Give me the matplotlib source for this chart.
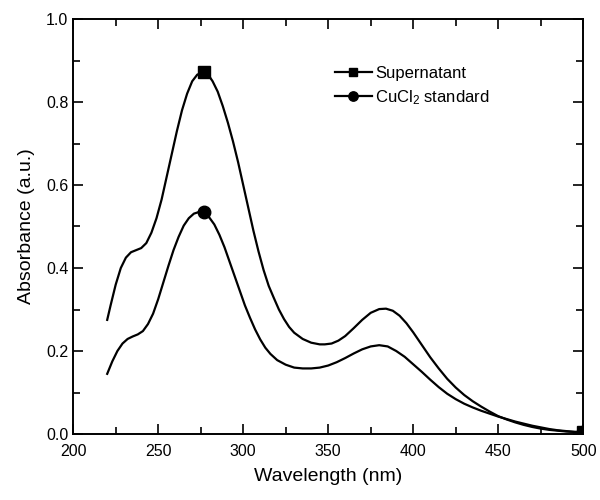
import matplotlib.pyplot as plt
from matplotlib.ticker import MultipleLocator

plt.rcParams['font.family'] = ['Liberation Sans', 'DejaVu Sans']
plt.rcParams['mathtext.fontset'] = 'custom'
plt.rcParams['mathtext.rm'] = 'Liberation Sans'
plt.rcParams['mathtext.it'] = 'Liberation Sans:italic'

# Supernatant spectrum
wl_sup = [220, 222, 225, 228, 231, 234, 237, 240, 243, 246, 249, 252, 255, 258,
          261, 264, 267, 270, 273, 277, 279, 282, 285, 288, 291, 294, 297, 300,
          303, 306, 309, 312, 315, 318, 321, 324, 327, 330, 335, 340, 345, 348,
          352, 356, 360, 365, 370, 375, 380, 384, 388, 392, 396, 400, 405, 410,
          415, 420, 425, 430, 435, 440, 445, 450, 455, 460, 465, 470, 475, 480,
          485, 490, 495, 500]
abs_sup = [0.275, 0.31, 0.36, 0.40, 0.425, 0.438, 0.443, 0.448, 0.46, 0.485, 0.52,
           0.565, 0.62, 0.675, 0.73, 0.78, 0.82, 0.85, 0.866, 0.872, 0.868, 0.85,
           0.825, 0.79, 0.75, 0.705, 0.655, 0.60, 0.545, 0.49, 0.44, 0.395, 0.357,
           0.328, 0.30, 0.277, 0.258, 0.244, 0.229, 0.22, 0.216, 0.216, 0.218,
           0.225, 0.236, 0.255, 0.275, 0.292, 0.301, 0.302, 0.297, 0.285, 0.267,
           0.245, 0.215, 0.185, 0.158, 0.133, 0.112, 0.094, 0.079, 0.066, 0.054,
           0.043, 0.035, 0.028, 0.022, 0.017, 0.013, 0.010, 0.008, 0.006, 0.005,
           0.005]

# CuCl2 standard spectrum
wl_cu = [220, 223, 226, 229, 232, 235, 238, 241, 244, 247, 250, 253, 256, 259,
         262, 265, 268, 271, 274, 277, 280, 283, 286, 289, 292, 295, 298, 301,
         304, 307, 310, 313, 316, 320, 325, 330, 335, 340, 345, 350, 355, 360,
         365, 370, 375, 380, 385, 390, 395, 400, 405, 410, 415, 420, 425, 430,
         435, 440, 445, 450, 455, 460, 465, 470, 475, 480, 485, 490, 495, 500]
abs_cu = [0.145, 0.175, 0.20, 0.218, 0.229, 0.235, 0.24, 0.248, 0.265, 0.29,
          0.325, 0.365, 0.405, 0.443, 0.475, 0.502, 0.52, 0.531, 0.535, 0.534,
          0.522, 0.505, 0.48, 0.45, 0.415, 0.38, 0.345, 0.31, 0.28, 0.252, 0.228,
          0.208, 0.193, 0.178, 0.167, 0.16, 0.158, 0.158, 0.16, 0.165, 0.173,
          0.183, 0.194, 0.204, 0.211, 0.214, 0.211, 0.2, 0.186, 0.168, 0.15,
          0.131, 0.113, 0.097, 0.084, 0.073, 0.064, 0.056, 0.049, 0.042, 0.036,
          0.03, 0.025, 0.02, 0.016, 0.012, 0.009, 0.007, 0.005, 0.004]

fig = plt.figure(figsize=(6, 5), dpi=100)
ax = fig.add_axes([0.122, 0.132, 0.85, 0.83])

ax.plot(wl_sup, abs_sup, color='black', lw=1.6, marker='s', ms=8,
        markevery=[wl_sup.index(277), len(wl_sup) - 1], label='Supernatant')
ax.plot(wl_cu, abs_cu, color='black', lw=1.6, marker='o', ms=9,
        markevery=[wl_cu.index(277), len(wl_cu) - 1], label='CuCl$_2$ standard')

ax.set_xlim(200, 500)
ax.set_ylim(0, 1.0)
ax.xaxis.set_major_locator(MultipleLocator(50))
ax.xaxis.set_minor_locator(MultipleLocator(25))
ax.yaxis.set_major_locator(MultipleLocator(0.2))
ax.yaxis.set_minor_locator(MultipleLocator(0.1))
ax.yaxis.set_major_formatter(plt.FuncFormatter(lambda v, p: f'{v:.1f}'))
ax.tick_params(which='both', direction='in', top=True, right=True,
               labelsize=11.5, width=1.2)
ax.tick_params(which='major', length=7)
ax.tick_params(which='minor', length=5)
ax.tick_params(axis='x', which='major', pad=7)
for s in ax.spines.values():
    s.set_linewidth(1.4)

ax.set_xlabel('Wavelength (nm)', fontsize=14, labelpad=7)
ax.set_ylabel('Absorbance (a.u.)', fontsize=14, labelpad=8)

ax.legend(loc='upper left', bbox_to_anchor=(0.484, 0.923), frameon=False,
          fontsize=12, handlelength=2.2, handletextpad=0.2, labelspacing=0.43,
          markerscale=0.75)

fig.savefig('out.png', dpi=100)
